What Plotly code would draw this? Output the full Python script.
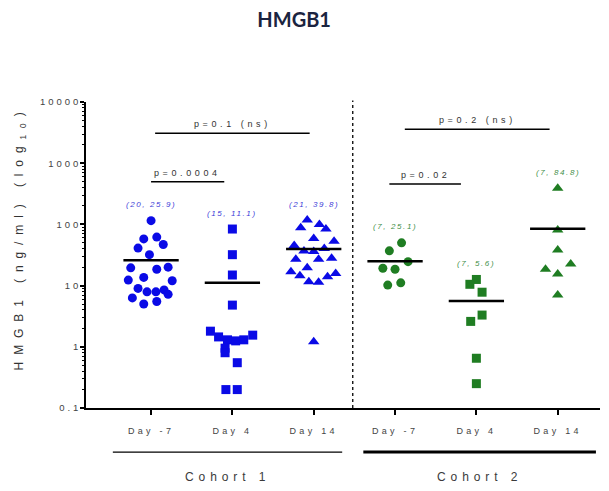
import math
import plotly.graph_objects as go

# ---------------- data ----------------
categories = ["Day -7", "Day 4", "Day 14"]
cohorts = ["Cohort 1", "Cohort 2"]

c1_day_m7 = [115, 58, 62, 41, 47, 32, 19.5, 18.5, 20, 13.6, 12.3, 12, 9.0, 7.9, 7.9, 8.5, 6.3, 7.2, 5.0, 5.5]
c1_day_m7_jitter = [0, -0.09, 0.07, -0.16, 0.15, -0.02, -0.25, 0.07, 0.21, -0.09, -0.28, 0.26,
                    -0.16, -0.05, 0.06, 0.16, -0.23, 0.21, -0.09, 0.07]

c1_day_4 = [84, 32, 14.9, 4.8, 1.8, 1.45, 1.3, 1.25, 1.3, 1.55, 0.95, 0.8, 0.55, 0.2, 0.2]
c1_day_4_jitter = [0, 0, 0, 0, -0.27, -0.17, -0.06, 0.04, 0.14, 0.25, -0.09, -0.09, 0.06, -0.08, 0.06]

c1_day_14 = [118, 88, 100, 84, 59, 45, 53, 36.7, 36, 40.5, 27, 27, 28, 19.6, 16.9, 14.5, 15.8, 14,
             11.6, 11.3, 1.21]
c1_day_14_jitter = [-0.08, -0.16, 0.07, 0.15, 0, -0.24, 0.25, -0.12, 0, 0.13, -0.22, 0.06, 0.22,
                    -0.08, -0.28, -0.17, 0.27, 0.17, -0.06, 0.06, 0]

c2_day_m7 = [50, 37, 24.6, 19.2, 18.5, 10.2, 11.1]
c2_day_m7_jitter = [0.08, -0.07, 0.16, -0.15, 0, -0.09, 0.07]

c2_day_4 = [12.6, 10.5, 7.8, 3.3, 2.6, 0.65, 0.25]
c2_day_4_jitter = [0, -0.08, 0.07, 0.07, -0.07, 0, 0]

c2_day_14 = [390, 81, 38, 22.5, 18.5, 15.5, 7.0]
c2_day_14_jitter = [0, 0, 0, 0.16, -0.15, 0, 0]

group_means = [25.9, 11.1, 39.8, 25.1, 5.6, 84.8]
p_labels = ["p=0.0004", "p=0.1 (ns)", "p=0.02", "p=0.2 (ns)"]

y_tick_values = [0.1, 1, 10, 100, 1000, 10000]
y_tick_labels = ["0.1", "1", "10", "100", "1000", "10000"]

# ---------------- styling ----------------
BLUE = "#0a0ae6"
GREEN = "#1f7d22"
BLUE_TXT = "#4040d8"
GREEN_TXT = "#3f8f4a"
FONT = "Liberation Sans, Arial, sans-serif"


def spaced(text, px):
    return f'<span style="letter-spacing:{px}px">{text}</span>'


groups = [
    (c1_day_m7, c1_day_m7_jitter, "circle", BLUE, BLUE_TXT, 9),
    (c1_day_4, c1_day_4_jitter, "square", BLUE, BLUE_TXT, 9),
    (c1_day_14, c1_day_14_jitter, "triangle-up", BLUE, BLUE_TXT, 10),
    (c2_day_m7, c2_day_m7_jitter, "circle", GREEN, GREEN_TXT, 9),
    (c2_day_4, c2_day_4_jitter, "square", GREEN, GREEN_TXT, 9),
    (c2_day_14, c2_day_14_jitter, "triangle-up", GREEN, GREEN_TXT, 10),
]

fig = go.Figure()
annotations = []

for i, (vals, jit, sym, col, tcol, msize) in enumerate(groups):
    fig.add_trace(go.Scatter(
        x=[i + j for j in jit], y=vals, mode="markers",
        marker=dict(symbol=sym, color=col, size=msize, line=dict(width=0)),
        showlegend=False, hoverinfo="y",
    ))
    m = group_means[i]
    fig.add_trace(go.Scatter(
        x=[i - 0.34, i + 0.34], y=[m, m], mode="lines",
        line=dict(color="black", width=2.5), showlegend=False, hoverinfo="skip",
    ))
    annotations.append(dict(
        x=i, y=math.log10(max(vals)), xref="x", yref="y",
        text=spaced(f"<i>({len(vals)}, {m})</i>", 1.6),
        showarrow=False, yshift=16, yanchor="middle",
        font=dict(family=FONT, size=8, color=tcol),
    ))

# significance brackets
bracket_specs = [(0.0, 0.9, 2.698), (0.05, 1.95, 3.489), (2.93, 3.81, 2.66), (3.12, 4.90, 3.554)]
shapes = []
for label, (x0, x1, ly) in zip(p_labels, bracket_specs):
    shapes.append(dict(type="line", xref="x", yref="y", x0=x0, x1=x1, y0=10 ** ly, y1=10 ** ly,
                       line=dict(color="black", width=1.4)))
    annotations.append(dict(
        x=(x0 + x1) / 2, y=ly, xref="x", yref="y", text=spaced(label, 3.6),
        showarrow=False, yshift=9, yanchor="middle",
        font=dict(family=FONT, size=9, color="#333333"),
    ))

# cohort divider
shapes.append(dict(type="line", xref="x", yref="paper", x0=2.48, x1=2.48, y0=0, y1=1.005,
                   line=dict(color="black", width=1.3, dash="dot")))

# cohort underlines & labels
cohort_spans = [(-0.47, 2.35, 1.2), (2.61, 5.47, 3.0)]
for name, (x0, x1, w) in zip(cohorts, cohort_spans):
    shapes.append(dict(type="line", xref="x", yref="paper", x0=x0, x1=x1, y0=-0.144, y1=-0.144,
                       line=dict(color="black", width=w)))
    annotations.append(dict(
        x=(x0 + x1) / 2, y=-0.225, xref="x", yref="paper", text=spaced(name, 4.9),
        showarrow=False, yanchor="middle",
        font=dict(family=FONT, size=12, color="#3a3a3a"),
    ))

# y axis title
annotations.append(dict(
    x=-0.128, y=0.555, xref="paper", yref="paper", textangle=-90,
    text=spaced("HMGB1 (ng/ml) (log<sub>10</sub>)", 6.9),
    showarrow=False, xanchor="center", yanchor="middle",
    font=dict(family=FONT, size=12, color="#333333"),
))

minor_vals = [m * 10 ** e for e in range(-1, 4) for m in range(2, 10)]

fig.update_layout(
    width=609, height=491,
    margin=dict(l=86, r=9, t=102, b=83),
    paper_bgcolor="white", plot_bgcolor="white",
    title=dict(text="<b>HMGB1</b>", x=0.483, xanchor="center", y=0.959, yanchor="middle",
               font=dict(family="Lato, Open Sans, sans-serif", size=20, color="#1b2440")),
    xaxis=dict(
        range=[-0.8, 5.52], showgrid=False, zeroline=False,
        showline=True, linecolor="black", linewidth=1.5,
        tickmode="array", tickvals=list(range(6)),
        ticktext=[spaced(c, 3.3) for c in categories * 2],
        ticks="outside", ticklen=5, tickwidth=1.5, tickcolor="black",
        ticklabelstandoff=8,
        tickfont=dict(family=FONT, size=9, color="#444444"),
    ),
    yaxis=dict(
        type="log", range=[-1, 4], showgrid=False, zeroline=False,
        showline=True, linecolor="black", linewidth=1.5,
        tickmode="array", tickvals=y_tick_values,
        ticktext=[spaced(t, 3.0) for t in y_tick_labels],
        ticks="outside", ticklen=4, tickwidth=1.5, tickcolor="black",
        ticklabelstandoff=-3,
        tickfont=dict(family=FONT, size=9.5, color="#444444"),
        minor=dict(tickmode="array", tickvals=minor_vals, ticks="outside", ticklen=2,
                   tickwidth=1, tickcolor="black", showgrid=False),
    ),
    shapes=shapes,
    annotations=annotations,
)

fig.write_html(
    "out.html",
    config={"displayModeBar": False},
    post_script="document.body.style.margin='0';document.body.style.padding='0';",
)
